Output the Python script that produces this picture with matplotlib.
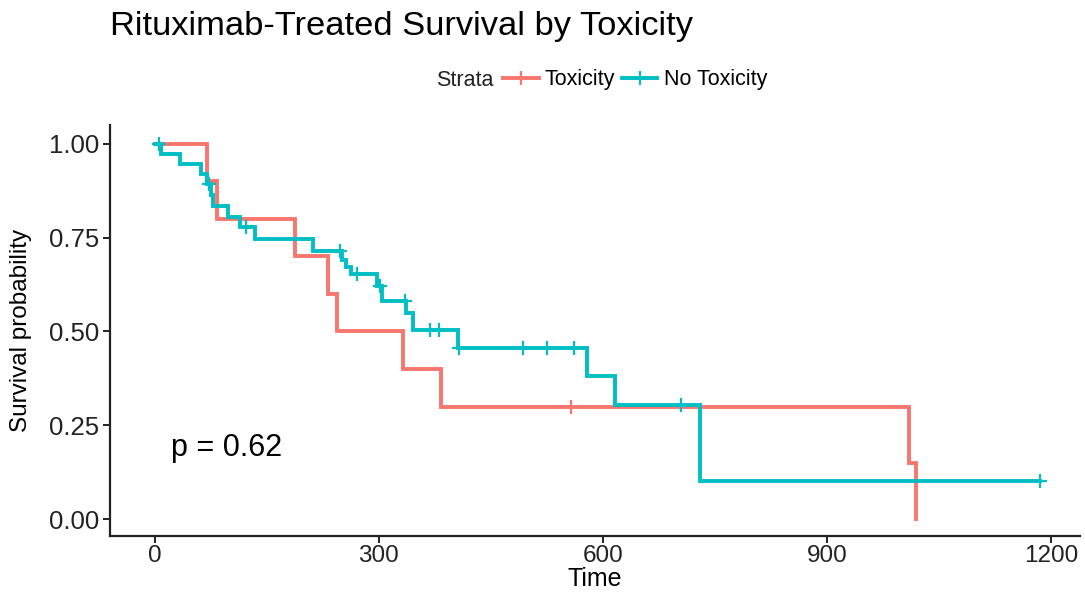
import numpy as np
import matplotlib.pyplot as plt
from matplotlib.lines import Line2D

plt.rcParams['font.family'] = ['Liberation Sans', 'DejaVu Sans']

# --- Kaplan-Meier steps ---
tox_time = [0, 70, 83, 188, 232, 244, 332, 383, 1010, 1019]
tox_surv = [1.00, 0.90, 0.80, 0.70, 0.60, 0.50, 0.40, 0.30, 0.15, 0.00]
tox_censor = [557]

notox_time = [0, 8, 34, 62, 70, 75, 78, 98, 114, 134, 212, 251, 256, 263,
              297, 304, 336, 346, 406, 579, 616, 730, 1185]
notox_surv = [1.00, 0.973, 0.946, 0.919, 0.892, 0.864, 0.834, 0.806, 0.777,
              0.745, 0.715, 0.690, 0.672, 0.652, 0.620, 0.582, 0.550, 0.505,
              0.457, 0.380, 0.303, 0.101, 0.101]
notox_censor = [5, 73, 122, 248, 271, 301, 335, 368, 380, 408, 493, 525,
                561, 704, 1185]

labels = ["Toxicity", "No Toxicity"]
colors = ["#F8766D", "#00BFC4"]
p_text = "p = 0.62"


def surv_at(times, surv, t):
    idx = np.searchsorted(times, t, side='right') - 1
    return np.asarray(surv)[idx]


fig = plt.figure(figsize=(10.85, 5.95), dpi=100)
ax = fig.add_axes([110 / 1085, 1 - 536 / 595, 970 / 1085, 411 / 595])

groups = [(tox_time, tox_surv, tox_censor), (notox_time, notox_surv, notox_censor)]
for (tt, ss, cc), col in zip(groups, colors):
    ax.step(tt, ss, where='post', color=col, lw=2.8, solid_joinstyle='miter')
    ax.plot(cc, surv_at(tt, ss, cc), ls='none', marker='+', ms=9.5,
            mew=1.6, color=col)

ax.text(22, 0.19, p_text, fontsize=22, va='center', ha='left')

ax.set_xlim(-60, 1239)
ax.set_ylim(-0.045, 1.05)
ax.set_xticks([0, 300, 600, 900, 1200])
ax.set_yticks([0, 0.25, 0.5, 0.75, 1.0])
ax.set_yticklabels(["0.00", "0.25", "0.50", "0.75", "1.00"])
for side in ['top', 'right']:
    ax.spines[side].set_visible(False)
for side in ['left', 'bottom']:
    ax.spines[side].set_linewidth(1.6)
    ax.spines[side].set_color('#222222')
ax.tick_params(axis='y', labelsize=18.5, pad=3)
ax.tick_params(axis='x', labelsize=17.5, pad=1.5)
ax.tick_params(length=5, width=1.4, color='#222222', labelcolor='#222222')
ax.set_xlabel("Time", fontsize=18, labelpad=0)
ax.set_ylabel("Survival probability", fontsize=17.5, labelpad=12)

fig.text(110 / 1085, 1 - 27 / 595, "Rituximab-Treated Survival by Toxicity",
         fontsize=24.8, va='center', ha='left')

fig.text(436 / 1085, 1 - 80 / 595, "Strata", fontsize=15.5, va='center',
         ha='left', color='#222222')
handles = [Line2D([], [], color=c, lw=2.8, marker='+', ms=9.5, mew=1.6)
           for c in colors]
ax.legend(handles, labels, ncol=2, frameon=False, fontsize=15.5,
          loc='center left', bbox_to_anchor=(503 / 1085, 1 - 80 / 595),
          bbox_transform=fig.transFigure, borderaxespad=0, borderpad=0,
          handlelength=1.65, handletextpad=0.3, columnspacing=0.3)

fig.savefig("out.png", dpi=100)
